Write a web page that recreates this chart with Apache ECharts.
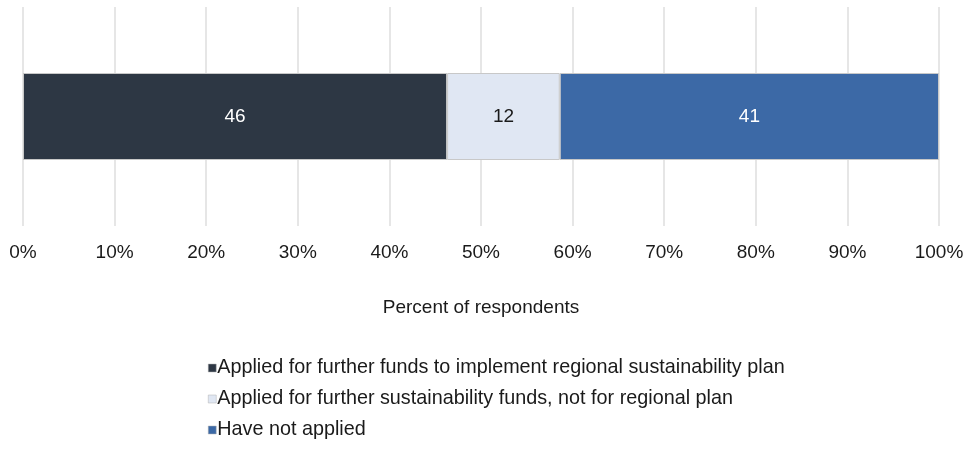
<!DOCTYPE html>
<html>
<head>
<meta charset="utf-8">
<script src="https://cdn.jsdelivr.net/npm/echarts@6/dist/echarts.min.js"></script>
<style>
  html, body { margin: 0; padding: 0; background: #fff; }
  #chart { width: 969px; height: 449px; }
</style>
</head>
<body>
<div id="chart"></div>
<script>
// data
const categories = ['Respondents'];
const seriesNames = [
  'Applied for further funds to implement regional sustainability plan',
  'Applied for further sustainability funds, not for regional plan',
  'Have not applied'
];
const seriesValues = [
  [46.3],
  [12.3],
  [41.4]
];
const seriesColors = ['#2d3744', '#e0e7f3', '#3c69a6'];
const labelColors = ['#ffffff', '#1a1a1a', '#ffffff'];
const xTicks = [0, 10, 20, 30, 40, 50, 60, 70, 80, 90, 100];

const font = 'Liberation Sans, Arial, Helvetica, sans-serif';

const chart = echarts.init(document.getElementById('chart'));

const series = seriesNames.map((name, i) => ({
  name: name,
  type: 'bar',
  stack: 'total',
  barWidth: 87,
  data: seriesValues[i],
  itemStyle: {
    color: seriesColors[i],
    borderColor: '#c8c8c8',
    borderWidth: 1
  },
  label: {
    show: true,
    position: 'inside',
    color: labelColors[i],
    fontFamily: font,
    fontSize: 19,
    formatter: p => Math.round(p.value)
  },
  emphasis: { disabled: true }
}));

chart.setOption({
  animation: false,
  textStyle: { fontFamily: font },
  grid: { left: 23, right: 30, top: 7, bottom: 223, containLabel: false },
  xAxis: {
    type: 'value',
    min: xTicks[0],
    max: xTicks[xTicks.length - 1],
    interval: 10,
    name: 'Percent of respondents',
    nameLocation: 'middle',
    nameGap: 72,
    nameTextStyle: { color: '#1a1a1a', fontSize: 19, fontFamily: font },
    axisLine: { show: false },
    axisTick: { show: false },
    axisLabel: {
      color: '#1a1a1a',
      fontSize: 19,
      fontFamily: font,
      margin: 17,
      formatter: v => v + '%'
    },
    splitLine: { show: true, lineStyle: { color: '#dedede', width: 1.5 } }
  },
  yAxis: {
    type: 'category',
    data: categories,
    axisLine: { show: false },
    axisTick: { show: false },
    axisLabel: { show: false },
    splitLine: { show: false }
  },
  legend: {
    orient: 'vertical',
    left: 203,
    top: 353,
    itemWidth: 8,
    itemHeight: 8,
    itemGap: 11,
    icon: 'rect',
    selectedMode: false,
    data: seriesNames,
    itemStyle: { borderColor: '#b0b0b0', borderWidth: 0.5 },
    textStyle: { color: '#1a1a1a', fontSize: 19.8, fontFamily: font, padding: [0, 0, 0, -4] }
  },
  series: series
});
</script>
</body>
</html>
